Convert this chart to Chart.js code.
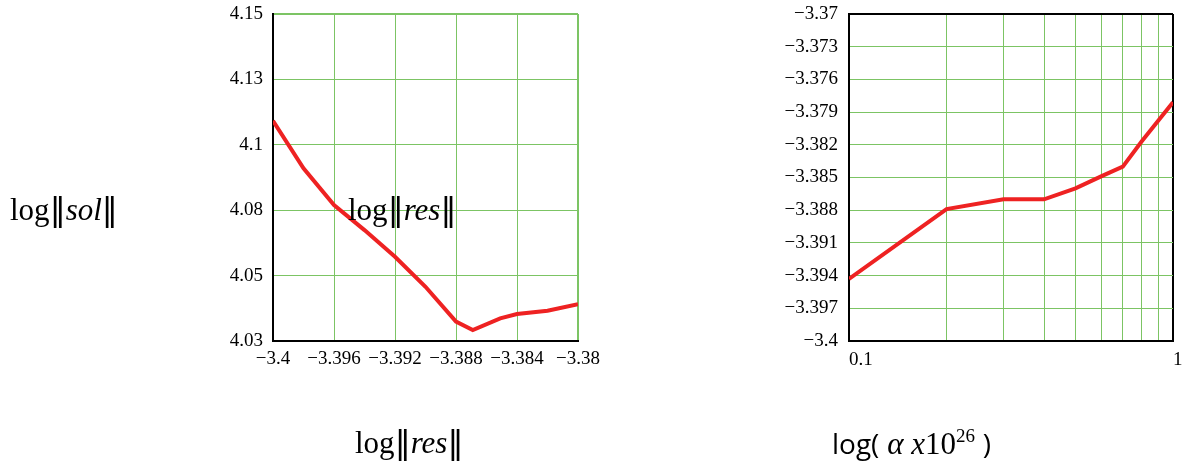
<!DOCTYPE html>
<html>
<head>
<meta charset="utf-8">
<script src="https://cdn.jsdelivr.net/npm/chart.js@4/dist/chart.umd.min.js"></script>
<style>
  html, body { margin: 0; padding: 0; background: #fff; }
  #page { position: relative; width: 1182px; height: 463px; overflow: hidden; }
  #page canvas { position: absolute; left: 0; top: 0; }
  .lbl { position: absolute; white-space: nowrap; font-family: "Liberation Serif", serif; font-size: 31px; line-height: 31px; color: #000; }
  .lbl i { font-style: italic; }
  .bar { font-family: "DejaVu Sans", sans-serif; font-size: 32px; }
  .sans { font-family: "Liberation Sans Narrow", "Open Sans", sans-serif; font-size: 28px; }
  .lbl sup { font-size: 19px; vertical-align: 12px; line-height: 0; }
</style>
</head>
<body>
<div id="page">
  <canvas id="left" width="1182" height="463"></canvas>
  <canvas id="right" width="1182" height="463"></canvas>
  <div class="lbl" style="left:10px;top:194px">log<span class="bar">‖</span><i>sol</i><span class="bar">‖</span></div>
  <div class="lbl" style="left:348px;top:194px">log<span class="bar">‖</span><i>res</i><span class="bar">‖</span></div>
  <div class="lbl" style="left:355px;top:427px">log<span class="bar">‖</span><i>res</i><span class="bar">‖</span></div>
  <div class="lbl" style="left:832px;top:428px"><span class="sans">log(</span> <i>α x</i>10<sup>26</sup> <span class="sans">)</span></div>
</div>
<script>
// left panel: log||sol|| against log||res||
const leftRes = [-3.4, -3.398, -3.396, -3.394, -3.392, -3.390, -3.388, -3.3869, -3.3851, -3.384, -3.382, -3.38];
const leftSol = [4.1108, 4.0934, 4.0799, 4.0707, 4.0609, 4.0499, 4.0371, 4.034, 4.0383, 4.0399, 4.0411, 4.0435];
const leftXTicks = [-3.4, -3.396, -3.392, -3.388, -3.384, -3.38];
const leftXLabels = ["−3.4", "−3.396", "−3.392", "−3.388", "−3.384", "−3.38"];
const leftYTicks = [4.03, 4.054, 4.078, 4.102, 4.126, 4.15];
const leftYLabels = ["4.03", "4.05", "4.08", "4.1", "4.13", "4.15"];

// right panel: log||res|| against alpha x 10^26 (log axis)
const rightAlpha = [0.1, 0.2, 0.3, 0.4, 0.5, 0.6, 0.7, 0.8, 0.9, 1];
const rightRes = [-3.3943, -3.3879, -3.387, -3.387, -3.386, -3.3849, -3.384, -3.3817, -3.3798, -3.3781];
const rightXTicks = [0.1, 0.2, 0.3, 0.4, 0.5, 0.6, 0.7, 0.8, 0.9, 1];
const rightXLabels = ["0.1", "", "", "", "", "", "", "", "", "1"];
const rightYTicks = [-3.4, -3.397, -3.394, -3.391, -3.388, -3.385, -3.382, -3.379, -3.376, -3.373, -3.37];
const rightYLabels = ["−3.4", "−3.397", "−3.394", "−3.391", "−3.388", "−3.385", "−3.382", "−3.379", "−3.376", "−3.373", "−3.37"];

const GRID = "#7cc464";
const RED = "#ee2222";
const tickFont = { family: "Liberation Serif", size: 19 };

function fixTicks(values) {
  return scale => { scale.ticks = values.map(v => ({ value: v })); };
}
function fixWidth(w) {
  return scale => { scale.width = w; scale.paddingTop = 0; scale.paddingBottom = 0; };
}
function fixHeight(h) {
  return scale => { scale.height = h; scale.paddingLeft = 0; scale.paddingRight = 0; };
}

new Chart(document.getElementById("left"), {
  type: "line",
  data: {
    datasets: [{
      data: leftRes.map((x, i) => ({ x: x, y: leftSol[i] })),
      borderColor: RED,
      borderWidth: 4,
      pointRadius: 0,
      tension: 0
    }]
  },
  options: {
    responsive: false,
    animation: false,
    events: [],
    layout: { padding: { left: 200, right: 604, top: 14, bottom: 83 } },
    plugins: { legend: { display: false }, tooltip: { enabled: false } },
    scales: {
      x: {
        type: "linear",
        min: -3.4, max: -3.38,
        afterBuildTicks: fixTicks(leftXTicks),
        afterFit: fixHeight(39),
        grid: { color: GRID, drawTicks: false, lineWidth: c => c.index === leftXTicks.length - 1 ? 2 : 1 },
        border: { color: "#000", width: 2 },
        ticks: { font: tickFont, color: "#000", padding: 7, maxRotation: 0, autoSkip: false,
                 callback: (v, i) => leftXLabels[i] }
      },
      y: {
        type: "linear",
        min: 4.03, max: 4.15,
        afterBuildTicks: fixTicks(leftYTicks),
        afterFit: fixWidth(73),
        grid: { color: GRID, drawTicks: false, lineWidth: c => c.index === leftYTicks.length - 1 ? 2 : 1 },
        border: { color: "#000", width: 2 },
        ticks: { font: tickFont, color: "#000", padding: 10, autoSkip: false,
                 callback: (v, i) => leftYLabels[i] }
      }
    }
  }
});

new Chart(document.getElementById("right"), {
  type: "line",
  data: {
    datasets: [{
      data: rightAlpha.map((x, i) => ({ x: x, y: rightRes[i] })),
      borderColor: RED,
      borderWidth: 4,
      pointRadius: 0,
      tension: 0
    }]
  },
  options: {
    responsive: false,
    animation: false,
    events: [],
    layout: { padding: { left: 769, right: 9, top: 14, bottom: 83 } },
    plugins: { legend: { display: false }, tooltip: { enabled: false } },
    scales: {
      x: {
        type: "logarithmic",
        min: 0.1, max: 1,
        afterBuildTicks: fixTicks(rightXTicks),
        afterFit: fixHeight(39),
        grid: { drawTicks: false,
                color: c => c.index === rightXTicks.length - 1 ? "#000" : GRID,
                lineWidth: c => c.index === rightXTicks.length - 1 ? 2 : 1 },
        border: { color: "#000", width: 2 },
        ticks: { font: tickFont, color: "#000", padding: 8, maxRotation: 0, autoSkip: false, align: "start",
                 callback: (v, i) => rightXLabels[i] }
      },
      y: {
        type: "linear",
        min: -3.4, max: -3.37,
        afterBuildTicks: fixTicks(rightYTicks),
        afterFit: fixWidth(80),
        grid: { drawTicks: false,
                color: c => c.index === rightYTicks.length - 1 ? "#000" : GRID,
                lineWidth: c => c.index === rightYTicks.length - 1 ? 2 : 1 },
        border: { color: "#000", width: 2 },
        ticks: { font: tickFont, color: "#000", padding: 11, autoSkip: false,
                 callback: (v, i) => rightYLabels[i] }
      }
    }
  }
});
</script>
</body>
</html>
